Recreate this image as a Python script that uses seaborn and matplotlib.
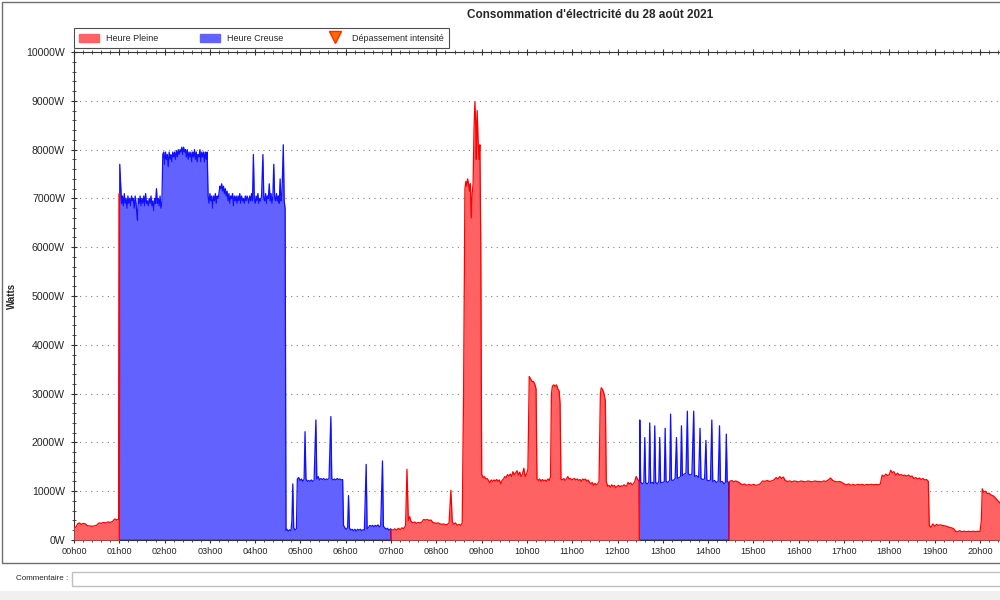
import numpy as np
import pandas as pd
import matplotlib.pyplot as plt
import seaborn as sns
from matplotlib.patches import Patch, Rectangle
from matplotlib.lines import Line2D
from matplotlib.ticker import MultipleLocator, FuncFormatter

# heure pleine 00h00 - 01h00 (hours, watts)
hp1_h = [0.00, 0.04, 0.08, 0.12, 0.16, 0.20, 0.25, 0.30, 0.35, 0.40, 0.45, 0.50, 0.55, 0.60,
         0.65, 0.70, 0.75, 0.80, 0.85, 0.90, 0.94, 0.99, 1.00, 1.00]
hp1_w = [270, 260, 330, 350, 320, 340, 330, 290, 290, 280, 290, 300, 350, 340,
         360, 350, 370, 360, 380, 430, 410, 430, 7100, 0]

# heure creuse 01h00 - 07h00
hc1_h = [1.00, 1.01, 1.03, 1.05, 1.07, 1.09, 1.11, 1.13, 1.15, 1.17, 1.19, 1.21, 1.23, 1.25, 1.27,
         1.29, 1.31, 1.33, 1.35, 1.37, 1.40, 1.42, 1.44, 1.46, 1.48, 1.50, 1.52, 1.54, 1.56,
         1.58, 1.60, 1.62, 1.64, 1.66, 1.68, 1.70, 1.72, 1.74, 1.76, 1.78, 1.80, 1.82, 1.84,
         1.86, 1.88, 1.90, 1.92, 1.94,
         1.96, 1.98, 2.00, 2.02, 2.04, 2.06, 2.08, 2.10, 2.12, 2.14, 2.16, 2.18, 2.20, 2.22,
         2.24, 2.26, 2.28, 2.30, 2.32, 2.34, 2.36, 2.38, 2.40, 2.42, 2.44, 2.46, 2.48, 2.50,
         2.52, 2.54, 2.56, 2.58, 2.60, 2.62, 2.64, 2.66, 2.68, 2.70, 2.72, 2.74, 2.76, 2.78,
         2.80, 2.82, 2.84, 2.86, 2.88, 2.90, 2.92, 2.94, 2.96,
         2.98, 3.00, 3.02, 3.04, 3.06, 3.08, 3.10, 3.12, 3.14, 3.16, 3.18, 3.20, 3.22, 3.24,
         3.26, 3.28, 3.30, 3.32, 3.34, 3.36, 3.38, 3.40, 3.42, 3.44, 3.46, 3.48, 3.50, 3.52,
         3.54, 3.56, 3.58, 3.60, 3.62, 3.64, 3.66, 3.68, 3.70, 3.72, 3.74, 3.76, 3.78, 3.80,
         3.82, 3.84, 3.86, 3.88, 3.90, 3.92, 3.94, 3.96, 3.98, 4.00, 4.02, 4.04, 4.06, 4.08,
         4.10, 4.12, 4.14, 4.17, 4.19, 4.21, 4.23, 4.25, 4.27, 4.29, 4.31, 4.33, 4.35, 4.37,
         4.39, 4.41, 4.43, 4.45, 4.47, 4.49, 4.51, 4.53, 4.55, 4.57, 4.59, 4.62, 4.64, 4.66,
         4.68, 4.70, 4.73, 4.76, 4.79, 4.81, 4.83, 4.85, 4.88, 4.91, 4.93, 4.96, 4.99, 5.02,
         5.05, 5.08, 5.10, 5.12, 5.15, 5.18, 5.21, 5.24, 5.27, 5.30, 5.34, 5.36, 5.39, 5.42,
         5.45, 5.48, 5.51, 5.54, 5.57, 5.60, 5.63, 5.67, 5.69, 5.72, 5.75, 5.78, 5.81, 5.84,
         5.87, 5.90, 5.93, 5.95, 5.98, 6.01, 6.04, 6.06, 6.08, 6.11, 6.14, 6.17, 6.20, 6.23,
         6.26, 6.29, 6.32, 6.35, 6.38, 6.41, 6.45, 6.47, 6.50, 6.53, 6.56, 6.59, 6.62, 6.65,
         6.68, 6.71, 6.74, 6.77, 6.81, 6.83, 6.86, 6.89, 6.92, 6.95, 6.99, 7.00]
hc1_w = [0, 7700, 7300, 6900, 7050, 6850, 7100, 6900, 7000, 6800, 7050, 6900, 7000, 6850, 7050,
         6950, 7000, 6800, 7050, 6900, 6550, 7000, 6900, 7050, 6850, 7000, 6900, 7050, 6850,
         7100, 6900, 6950, 6850, 7000, 6900, 7050, 6850, 6950, 6750, 7000, 6900, 7200, 6900,
         7000, 6850, 7050, 6800, 6900,
         7900, 7950, 7700, 7950, 7800, 7900, 7650, 7950, 7800, 7900, 7750, 7950, 7850, 7950,
         7800, 7980, 7850, 8000, 7900, 8000, 7950, 8050, 7900, 8050, 7950, 8000, 7850, 8000,
         7800, 7950, 7850, 7950, 7750, 7950, 7850, 8000, 7800, 7950, 7750, 7900, 7850, 8000,
         7750, 7950, 7850, 7950, 7750, 7950, 7800, 7950, 7050,
         6900, 7100, 6950, 7050, 6800, 7050, 6950, 7100, 6900, 7050, 7000, 7100, 7250, 7200,
         7300, 7150, 7250, 7100, 7200, 7050, 7150, 6950, 7100, 6900, 7050, 7000, 7100, 6850,
         7050, 6950, 7050, 6900, 7050, 6950, 7100, 6900, 7050, 6950, 7000, 6900, 7050, 6950,
         7050, 7000, 6900, 7050, 6950, 7100, 6950, 7900, 7000, 6900, 7050, 6950, 7100, 6900,
         7000, 6950, 7050, 7900, 7000, 6950, 7100, 6900, 7050, 7000, 7300, 6950, 7100, 6900,
         7050, 7700, 7000, 6950, 7100, 6950, 7050, 6900, 7400, 6950, 7050, 8100, 6950, 6800,
         200, 220, 180, 210, 190, 400, 1150, 250, 200, 230, 1250, 1280, 1220, 1250,
         1200, 1250, 2220, 1250, 1200, 1220, 1200, 1230, 1200, 1220, 2460, 1250, 1300, 1230,
         1260, 1240, 1260, 1230, 1250, 1240, 1260, 2530, 1260, 1230, 1250, 1230, 1260, 1240,
         1250, 1230, 1240, 300, 250, 220, 250, 910, 250, 200, 220, 190, 220, 180,
         220, 200, 220, 190, 210, 200, 1550, 230, 250, 300, 280, 300, 270, 300,
         280, 310, 270, 290, 1620, 280, 250, 220, 240, 200, 230, 0]

# heure pleine 07h00 - 12h30
hp2_h = [7.00, 7.00, 7.04, 7.08, 7.12, 7.16, 7.20, 7.24, 7.28, 7.32, 7.35, 7.38, 7.41, 7.44,
         7.48, 7.52, 7.56, 7.60, 7.64, 7.68, 7.72, 7.76, 7.80, 7.84, 7.88, 7.92, 7.96, 8.00,
         8.04, 8.08, 8.12, 8.16, 8.20, 8.24, 8.28, 8.32, 8.35, 8.38, 8.42, 8.46, 8.50, 8.54,
         8.57, 8.60, 8.63, 8.65, 8.67, 8.69, 8.71, 8.73, 8.75, 8.77, 8.79, 8.81, 8.83, 8.85,
         8.87, 8.88, 8.90, 8.92, 8.94, 8.96, 8.98, 9.00, 9.03, 9.06, 9.09, 9.12, 9.15, 9.18,
         9.21, 9.24, 9.27, 9.30, 9.33, 9.36, 9.39, 9.42, 9.45, 9.48, 9.51, 9.54, 9.57, 9.60,
         9.63, 9.66, 9.69, 9.72, 9.75, 9.78, 9.81, 9.84, 9.87, 9.90, 9.93, 9.96, 9.99, 10.02,
         10.05, 10.08, 10.11, 10.14, 10.17, 10.20, 10.22, 10.25, 10.28, 10.31, 10.34, 10.37,
         10.40, 10.43, 10.46, 10.49, 10.52, 10.54, 10.56, 10.59, 10.62, 10.65, 10.68, 10.71,
         10.73, 10.75, 10.78, 10.81, 10.84, 10.87, 10.90, 10.93, 10.96, 10.99, 11.02, 11.05,
         11.08, 11.11, 11.14, 11.17, 11.20, 11.23, 11.26, 11.29, 11.32, 11.35, 11.38, 11.41,
         11.44, 11.47, 11.50, 11.53, 11.56, 11.59, 11.62, 11.64, 11.67, 11.70, 11.73, 11.75,
         11.78, 11.81, 11.84, 11.87, 11.90, 11.93, 11.96, 11.99, 12.02, 12.05, 12.08, 12.11,
         12.14, 12.17, 12.20, 12.23, 12.26, 12.29, 12.32, 12.35, 12.38, 12.41, 12.44, 12.47,
         12.48]
hp2_w = [0, 220, 200, 230, 200, 240, 210, 250, 230, 300, 1450, 400, 480, 380,
         350, 370, 340, 360, 350, 370, 420, 410, 420, 400, 410, 360, 350, 340,
         350, 330, 320, 330, 310, 320, 350, 1020, 380, 320, 350, 300, 320, 300,
         350, 3000, 7200, 7350, 7250, 7400, 7300, 7150, 7300, 6600, 7100, 7300, 8400, 8980,
         8500, 7800, 8800, 8200, 7800, 8100, 6000, 1350, 1280, 1300, 1250, 1260, 1220, 1170,
         1230, 1200, 1230, 1210, 1240, 1200, 1230, 1150, 1220, 1250, 1300, 1280, 1340, 1310,
         1350, 1300, 1400, 1330, 1380, 1420, 1330, 1390, 1300, 1350, 1470, 1300, 1350, 1450,
         3350, 3300, 3250, 3250, 3200, 3100, 1250, 1220, 1250, 1200, 1240, 1210,
         1230, 1200, 1250, 1220, 1300, 3000, 3150, 3180, 3150, 3180, 3100, 3050,
         2800, 1250, 1230, 1260, 1220, 1250, 1300, 1250, 1260, 1230, 1250, 1260,
         1230, 1250, 1220, 1240, 1200, 1250, 1230, 1250, 1200, 1230, 1180, 1150,
         1180, 1120, 1160, 1130, 1150, 1200, 3000, 3120, 3080, 3000, 2850, 1200,
         1100, 1120, 1080, 1130, 1100, 1120, 1070, 1100, 1120, 1090, 1110, 1100,
         1130, 1110, 1100, 1180, 1150, 1170, 1130, 1150, 1200, 1300, 1250, 1200,
         0]

# heure creuse 12h30 - 14h30
hc2_h = [12.48, 12.49, 12.51, 12.55, 12.58, 12.60, 12.62, 12.66, 12.69, 12.71, 12.73, 12.77,
         12.80, 12.82, 12.84, 12.88, 12.91, 12.93, 12.95, 12.99, 13.03, 13.05, 13.07, 13.11,
         13.15, 13.17, 13.19, 13.23, 13.27, 13.30, 13.32, 13.36, 13.39, 13.41, 13.43, 13.47,
         13.51, 13.54, 13.56, 13.60, 13.64, 13.68, 13.70, 13.74, 13.79, 13.82, 13.84, 13.88,
         13.92, 13.95, 13.97, 14.01, 14.05, 14.08, 14.10, 14.14, 14.18, 14.22, 14.25, 14.27,
         14.31, 14.35, 14.38, 14.40, 14.42, 14.45, 14.46]
hc2_w = [0, 2460, 1180, 1150, 1180, 2100, 1170, 1150, 1190, 2400, 1160, 1180,
         1150, 2340, 1180, 1150, 1200, 2100, 1170, 1180, 1190, 2290, 1200, 1180,
         1220, 2580, 1230, 1220, 1260, 2100, 1260, 1280, 1300, 2340, 1320, 1350,
         1370, 2640, 1360, 1330, 1350, 2640, 1300, 1320, 1280, 2290, 1260, 1240,
         1250, 2040, 1230, 1210, 1230, 2460, 1200, 1220, 1180, 1200, 2340, 1190,
         1200, 1150, 1180, 2170, 1200, 1180, 0]

# heure pleine 14h30 - fin
hp3_h = [14.46, 14.47, 14.52, 14.56, 14.60, 14.64, 14.68, 14.72, 14.76, 14.80, 14.85, 14.90,
         14.95, 15.00, 15.05, 15.10, 15.15, 15.20, 15.25, 15.30, 15.35, 15.40, 15.45, 15.50,
         15.54, 15.58, 15.62, 15.66, 15.70, 15.75, 15.80, 15.85, 15.90, 15.95, 16.00, 16.05,
         16.10, 16.15, 16.20, 16.25, 16.30, 16.35, 16.40, 16.45, 16.50, 16.55, 16.60, 16.65,
         16.70, 16.75, 16.80, 16.85, 16.90, 16.95, 17.00, 17.05, 17.10, 17.15, 17.20, 17.25,
         17.30, 17.35, 17.40, 17.45, 17.50, 17.55, 17.60, 17.65, 17.70, 17.75, 17.80, 17.84,
         17.88, 17.92, 17.96, 18.00, 18.03, 18.06, 18.10, 18.14, 18.18, 18.22, 18.26, 18.30,
         18.34, 18.38, 18.42, 18.46, 18.50, 18.54, 18.58, 18.62, 18.66, 18.70, 18.74, 18.78,
         18.82, 18.86, 18.88, 18.92, 18.96, 19.00, 19.04, 19.08, 19.12, 19.17, 19.22, 19.27,
         19.32, 19.37, 19.42, 19.46, 19.50, 19.55, 19.60, 19.65, 19.70, 19.75, 19.80, 19.85,
         19.90, 19.95, 20.00, 20.03, 20.05, 20.08, 20.12, 20.16, 20.20, 20.25, 20.30, 20.35,
         20.40, 20.45, 20.55]
hp3_w = [0, 1200, 1220, 1190, 1210, 1200, 1180, 1150, 1130, 1150, 1120, 1140,
         1120, 1140, 1120, 1130, 1150, 1210, 1200, 1220, 1200, 1210, 1230, 1280,
         1250, 1300, 1260, 1290, 1220, 1200, 1210, 1190, 1210, 1200, 1190, 1210,
         1200, 1190, 1210, 1200, 1190, 1210, 1200, 1200, 1190, 1210, 1200, 1230,
         1270, 1220, 1200, 1190, 1200, 1180, 1150, 1130, 1150, 1120, 1140, 1120,
         1140, 1130, 1140, 1120, 1140, 1130, 1140, 1130, 1140, 1130, 1150, 1330,
         1300, 1350, 1320, 1340, 1430, 1380, 1400, 1330, 1370, 1330, 1340, 1320,
         1330, 1310, 1330, 1300, 1310, 1260, 1280, 1250, 1270, 1240, 1260, 1230,
         1240, 1200, 300, 260, 330, 280, 320, 300, 310, 300, 290, 280,
         260, 250, 230, 180, 170, 190, 170, 180, 170, 180, 170, 180,
         170, 180, 170, 400, 1050, 980, 1000, 950, 960, 920, 900, 850,
         800, 750, 700]

hours = list(range(0, 21))
watt_ticks = list(range(0, 10001, 1000))

red_fill, red_line = "#FF6262", "#FF0000"
blue_fill, blue_line = "#6262FF", "#1010FF"

sns.set_style("white")
plt.rcParams['font.family'] = ['Liberation Sans', 'DejaVu Sans']

fig = plt.figure(figsize=(10, 6), dpi=100)
ax = fig.add_axes([0.074, 0.1, 0.93, 0.8133])

# blue segments first, red drawn on top
for h, w in [(hc1_h, hc1_w), (hc2_h, hc2_w)]:
    ax.fill_between(h, w, 0, color=blue_fill, lw=0, zorder=2)
    sns.lineplot(x=h, y=w, ax=ax, estimator=None, sort=False, color=blue_line, lw=0.9, zorder=3)

red_h = hp1_h + hp2_h + hp3_h
red_w = hp1_w + hp2_w + hp3_w
ax.fill_between(red_h, red_w, 0, color=red_fill, lw=0, zorder=4)
sns.lineplot(x=red_h, y=red_w, ax=ax, estimator=None, sort=False, color=red_line, lw=0.9, zorder=5)

ax.set_xlim(0, 20.53)
ax.set_ylim(0, 10000)
ax.set_xticks(hours)
ax.xaxis.set_minor_locator(MultipleLocator(0.2))
ax.xaxis.set_major_formatter(FuncFormatter(lambda v, p: f"{int(round(v)):02d}h00"))
ax.set_yticks(watt_ticks)
ax.yaxis.set_minor_locator(MultipleLocator(200))
ax.yaxis.set_major_formatter(FuncFormatter(lambda v, p: f"{int(v)}W"))
ax.tick_params(which='major', direction='inout', length=5, width=0.8, color='#333333',
               top=True, left=True, bottom=True)
ax.tick_params(which='minor', direction='inout', length=3, width=0.6, color='#333333',
               top=True, left=True, bottom=True)
ax.tick_params(axis='x', which='both', labeltop=False, labelsize=6.6, pad=2.5)
ax.tick_params(axis='y', which='major', labelsize=7.6, pad=4)
ax.grid(axis='y', which='major', color='#808080', lw=0.8, linestyle=(0, (1, 4)), zorder=1)
ax.set_axisbelow(True)
for s in ['left', 'bottom', 'top']:
    ax.spines[s].set_color('#333333')
    ax.spines[s].set_linewidth(0.8)
ax.spines['right'].set_visible(False)
ax.set_xlabel("")
ax.set_ylabel("Watts", fontsize=7, fontweight='bold')
ax.yaxis.set_label_coords(-0.061, 0.5)

handles = [Patch(facecolor=red_fill, edgecolor=red_fill),
           Patch(facecolor=blue_fill, edgecolor=blue_fill),
           Line2D([], [], marker='v', color='none', markerfacecolor='#FF6a00',
                  markeredgecolor='#FF2a00', markersize=9)]
leg = ax.legend(handles, ["Heure Pleine", "Heure Creuse", "Dépassement intensité"],
                ncol=3, loc='lower left', bbox_to_anchor=(0.0, 1.008), fontsize=6.5,
                frameon=True, fancybox=False, edgecolor='#222222', handlelength=2.2,
                handleheight=1.0, handletextpad=0.8, columnspacing=4.6,
                borderpad=0.6, borderaxespad=0)
leg.get_frame().set_linewidth(0.8)

fig.text(0.59, 1 - 15 / 600, "Consommation d'électricité du 28 août 2021",
         ha='center', va='center', fontsize=8.5, fontweight='bold')

# outer frame and comment field
fig.patches.append(Rectangle((0.002, 1 - 563 / 600), 1.0, 561 / 600, transform=fig.transFigure,
                             fill=False, edgecolor='#707070', lw=1))
fig.text(0.016, 1 - 578 / 600, "Commentaire :", ha='left', va='center', fontsize=5.8)
fig.patches.append(Rectangle((0.072, 1 - 586 / 600), 0.93, 14 / 600, transform=fig.transFigure,
                             facecolor='white', edgecolor='#c0c0c0', lw=1))
fig.patches.append(Rectangle((0, 0), 1, 9 / 600, transform=fig.transFigure,
                             facecolor='#f0f0f0', edgecolor='none'))

fig.savefig("out.png", dpi=100)
